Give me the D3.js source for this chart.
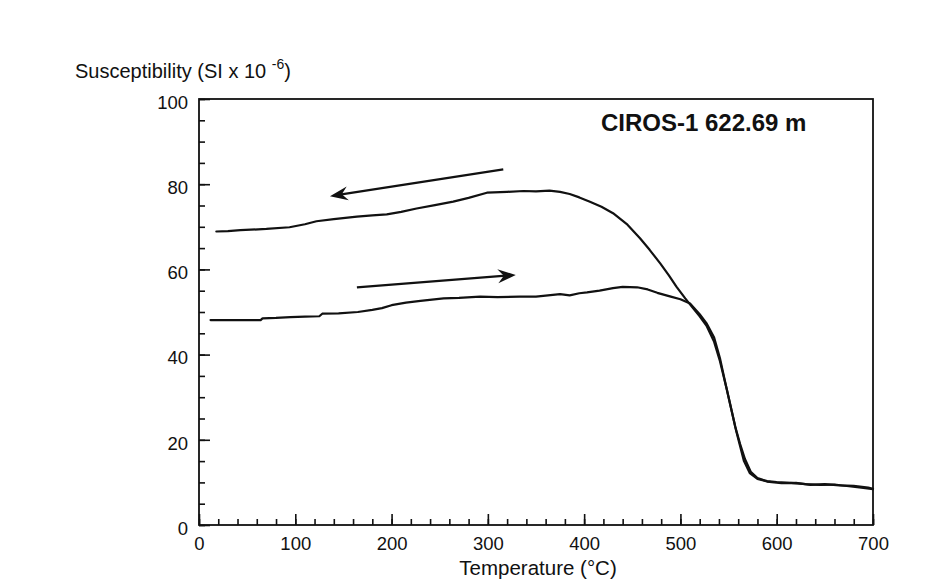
<!DOCTYPE html>
<meta charset="utf-8">
<style>
body { margin: 0; background: #fff; }
text { font-family: "Liberation Sans", Arial, Helvetica, sans-serif; fill: #111; }
.axis path, .axis line { stroke: #111; stroke-width: 1.6px; }
.curve { fill: none; stroke: #111; stroke-width: 2.2px; stroke-linejoin: round; stroke-linecap: round; }
</style>
<body>
<div id="chart"></div>
<script src="https://cdn.jsdelivr.net/npm/d3@7"></script>
<script>

// heating run (lower curve), temperature in deg C, susceptibility SI x 10^-6
var heatT = [12, 30, 50, 64, 66, 80, 95, 110, 125, 128, 145, 165, 180, 190, 200, 215, 230, 254, 270, 292,
             310, 333, 350, 375, 385, 395, 403, 416, 430, 440, 455, 466, 476, 490, 500, 510, 520, 527, 535, 541,
             547, 552, 557, 562, 567, 573, 580, 590, 600, 615, 630, 645, 660, 675, 690, 700];
var heatV = [48.1, 48.1, 48.1, 48.1, 48.5, 48.6, 48.8, 48.9, 49.0, 49.6, 49.7, 50.0, 50.5, 50.9, 51.6, 52.2, 52.6, 53.2, 53.3, 53.6,
             53.5, 53.6, 53.6, 54.2, 53.9, 54.4, 54.6, 55.0, 55.6, 55.9, 55.8, 55.3, 54.5, 53.6, 53.0, 52.0, 49.5, 47.4, 44.0, 39.2,
             33.0, 28.0, 23.0, 19.0, 15.5, 12.5, 11.0, 10.3, 10.1, 9.9, 9.6, 9.4, 9.5, 9.1, 8.7, 8.4];

// cooling run (upper curve)
var coolT = [18, 30, 43, 70, 94, 110, 122, 140, 164, 180, 195, 210, 226, 245, 264, 280, 299, 320, 337, 350,
             364, 375, 385, 395, 406, 418, 430, 445, 458, 468, 479, 488, 496, 505, 512, 520, 527, 535, 541, 548,
             553, 558, 562, 566, 572, 580, 590, 605, 620, 635, 650, 665, 680, 695, 700];
var coolV = [68.9, 69.0, 69.2, 69.5, 69.9, 70.6, 71.3, 71.8, 72.4, 72.7, 72.9, 73.5, 74.3, 75.1, 75.9, 76.8, 78.0, 78.2, 78.4, 78.3,
             78.5, 78.2, 77.7, 76.9, 75.9, 74.7, 73.2, 70.5, 67.3, 64.6, 61.4, 58.6, 55.9, 53.2, 51.2, 49.0, 46.8, 43.0, 38.5, 32.0,
             27.0, 22.0, 18.5, 15.0, 12.2, 10.8, 10.2, 9.8, 9.9, 9.4, 9.6, 9.3, 9.2, 8.8, 8.5];

// arrows: [tail, tip] in data units
var arrowCool = [[316, 83.5], [136, 77.2]];
var arrowHeat = [[164, 55.8], [329, 58.7]];

var xMajor = [0, 100, 200, 300, 400, 500, 600, 700];
var yMajor = [0, 20, 40, 60, 80, 100];
var titleText = "CIROS-1 622.69 m";

var WIDTH = 940;
var HEIGHT = 582;
var LEFT = 199, RIGHT = 873, TOP = 99, BOTTOM = 525;

var svg = d3.select('#chart').append('svg')
    .attr('width', WIDTH)
    .attr('height', HEIGHT)
    .style('background', 'white');

var x = d3.scaleLinear().domain([0, 700]).range([LEFT, RIGHT]);
var y = d3.scaleLinear().domain([0, 100]).range([BOTTOM, TOP]);

// minor ticks
svg.append('g')
    .attr('class', 'axis')
    .attr('transform', 'translate(0,' + BOTTOM + ')')
    .call(d3.axisBottom(x).tickValues(d3.range(0, 701, 20)).tickSize(-6).tickFormat(''))
    .call(function(g) { g.select('.domain').remove(); });
svg.append('g')
    .attr('class', 'axis')
    .attr('transform', 'translate(' + LEFT + ',0)')
    .call(d3.axisLeft(y).tickValues(d3.range(0, 101, 5)).tickSize(-6).tickFormat(''))
    .call(function(g) { g.select('.domain').remove(); });

// major ticks with labels
var xAxis = svg.append('g')
    .attr('class', 'axis')
    .attr('transform', 'translate(0,' + BOTTOM + ')')
    .call(d3.axisBottom(x).tickValues(xMajor).tickSize(-11).tickPadding(12).tickFormat(d3.format('d')));
xAxis.select('.domain').remove();
xAxis.selectAll('text').style('font-size', '18.5px').attr('fill', '#111');

var yAxis = svg.append('g')
    .attr('class', 'axis')
    .attr('transform', 'translate(' + LEFT + ',0)')
    .call(d3.axisLeft(y).tickValues(yMajor).tickSize(-11).tickPadding(11).tickFormat(d3.format('d')));
yAxis.select('.domain').remove();
yAxis.selectAll('text').style('font-size', '18.5px').attr('fill', '#111').attr('dy', '0.5em');

// frame
svg.append('rect')
    .attr('x', LEFT)
    .attr('y', TOP)
    .attr('width', RIGHT - LEFT)
    .attr('height', BOTTOM - TOP)
    .attr('fill', 'none')
    .attr('stroke', '#111')
    .attr('stroke-width', 1.8);

var line = d3.line()
    .x(function(d) { return x(d[0]); })
    .y(function(d) { return y(d[1]); });

var heatData = heatT.map(function(t, i) { return [t, heatV[i]]; });
var coolData = coolT.map(function(t, i) { return [t, coolV[i]]; });

svg.append('path').attr('class', 'curve').attr('d', line(heatData));
svg.append('path').attr('class', 'curve').attr('d', line(coolData));

// arrows
var drawArrow = function(a) {
  var x1 = x(a[0][0]), y1 = y(a[0][1]);
  var x2 = x(a[1][0]), y2 = y(a[1][1]);
  var ang = Math.atan2(y2 - y1, x2 - x1) * 180 / Math.PI;
  svg.append('line')
      .attr('x1', x1)
      .attr('y1', y1)
      .attr('x2', x2 - 10 * Math.cos(ang * Math.PI / 180))
      .attr('y2', y2 - 10 * Math.sin(ang * Math.PI / 180))
      .attr('stroke', '#111')
      .attr('stroke-width', 2.2);
  svg.append('path')
      .attr('d', 'M0,0 L-18,-7 L-12,0 L-18,7 Z')
      .attr('fill', '#111')
      .attr('transform', 'translate(' + x2 + ',' + y2 + ') rotate(' + ang + ')');
};
drawArrow(arrowCool);
drawArrow(arrowHeat);

// title inside plot
svg.append('text')
    .attr('x', 601)
    .attr('y', 131)
    .style('font-size', '24px')
    .style('font-weight', 'bold')
    .text(titleText);

// y label with superscript
var ylab = svg.append('text')
    .attr('x', 75)
    .attr('y', 78)
    .style('font-size', '20px');
ylab.append('tspan').text('Susceptibility (SI x 10 ');
ylab.append('tspan').attr('dy', -9).style('font-size', '14px').text('-6');
ylab.append('tspan').attr('dy', 9).text(')');

// x label
svg.append('text')
    .attr('x', (LEFT + RIGHT) / 2 + 2)
    .attr('y', 575)
    .attr('text-anchor', 'middle')
    .style('font-size', '20.5px')
    .text('Temperature (\u00B0C)');

</script>
